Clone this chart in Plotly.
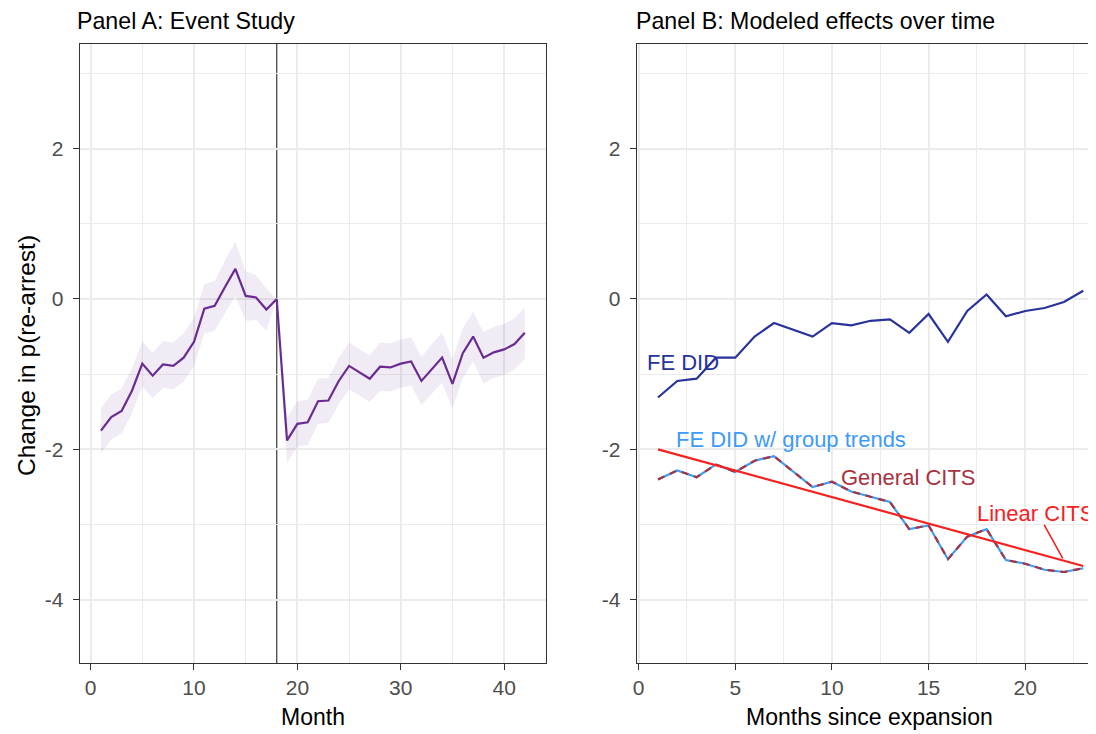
import plotly.graph_objects as go

# ---------------- Data ----------------
# Panel A: event study
es_month = list(range(1, 43))
es_est = [-1.75, -1.57, -1.49, -1.22, -0.86, -1.02, -0.87, -0.89, -0.78, -0.57,
          -0.13, -0.09, 0.16, 0.40, 0.04, 0.02, -0.14, 0.00,
          -1.88, -1.66, -1.64, -1.36, -1.35, -1.09, -0.89, -0.98, -1.06, -0.90,
          -0.91, -0.86, -0.83, -1.09, -0.93, -0.78, -1.13, -0.72, -0.50, -0.78,
          -0.71, -0.67, -0.60, -0.45]
es_halfwidth = [0.30, 0.30, 0.30, 0.30, 0.30, 0.30, 0.31, 0.31, 0.32, 0.32,
                0.33, 0.33, 0.35, 0.36, 0.33, 0.30, 0.28, 0.00,
                0.30, 0.30, 0.30, 0.30, 0.30, 0.31, 0.31, 0.31, 0.31, 0.32,
                0.32, 0.32, 0.32, 0.32, 0.33, 0.33, 0.33, 0.33, 0.33, 0.34,
                0.34, 0.34, 0.34, 0.34]
event_month = 18

# Panel B: modeled effects
mb_month = list(range(1, 24))
fe_did = [-1.31, -1.09, -1.06, -0.78, -0.78, -0.50, -0.32, -0.41, -0.50, -0.32,
          -0.35, -0.29, -0.27, -0.45, -0.20, -0.57, -0.16, 0.06, -0.23, -0.16,
          -0.12, -0.04, 0.11]
fe_did_trends = [-2.40, -2.28, -2.37, -2.20, -2.30, -2.15, -2.09, -2.30, -2.50, -2.43,
                 -2.56, -2.63, -2.70, -3.06, -3.01, -3.46, -3.16, -3.06, -3.47, -3.52,
                 -3.60, -3.63, -3.58]
general_cits = [-2.40, -2.28, -2.37, -2.20, -2.30, -2.15, -2.09, -2.30, -2.50, -2.43,
                -2.56, -2.63, -2.70, -3.06, -3.01, -3.46, -3.16, -3.06, -3.47, -3.52,
                -3.60, -3.63, -3.58]
linear_month = [1, 23]
linear_cits = [-2.00, -3.55]

y_ticks = [-4, -2, 0, 2]
y_ticktext = ["-4", "-2", "0", "2"]
y_minor = [-3, -1, 1, 3]
xa_ticks = [0, 10, 20, 30, 40]
xa_minor = [5, 15, 25, 35]
xb_ticks = [0, 5, 10, 15, 20]
xb_minor = [2.5, 7.5, 12.5, 17.5, 22.5]

# ---------------- Styling ----------------
FONT = "Liberation Sans, Arial, Helvetica, sans-serif"
OFF = 8                      # page body margin of the browser
W, H = 1096 - OFF, 734 - OFF
GRID = "#EBEBEB"
FRAME = "#333333"
TICKC = "#4D4D4D"

PURPLE = "#6B2C91"
NAVY = "#27339A"
LBLUE = "#3D9BF7"
BROWN = "#A83240"
RED = "#F5221F"


def px_x(p):
    return (p - OFF) / W


def px_y(p):
    return (H - (p - OFF)) / H


ydom = [px_y(663), px_y(44)]
yrange = [-4.84, 3.39]

fig = go.Figure()

# Panel A ribbon
lo = [e - h for e, h in zip(es_est, es_halfwidth)]
hi = [e + h for e, h in zip(es_est, es_halfwidth)]
fig.add_trace(go.Scatter(x=es_month, y=lo, mode="lines", line=dict(width=0, color="rgba(0,0,0,0)"),
                         hoverinfo="skip", showlegend=False, xaxis="x", yaxis="y"))
fig.add_trace(go.Scatter(x=es_month, y=hi, mode="lines", line=dict(width=0, color="rgba(0,0,0,0)"),
                         fill="tonexty", fillcolor="rgba(112,60,160,0.10)",
                         hoverinfo="skip", showlegend=False, xaxis="x", yaxis="y"))
fig.add_trace(go.Scatter(x=es_month, y=es_est, mode="lines", line=dict(color=PURPLE, width=2.2),
                         showlegend=False, xaxis="x", yaxis="y"))

# Panel B lines
fig.add_trace(go.Scatter(x=mb_month, y=fe_did, mode="lines", line=dict(color=NAVY, width=2.2),
                         showlegend=False, xaxis="x2", yaxis="y2"))
fig.add_trace(go.Scatter(x=mb_month, y=fe_did_trends, mode="lines", line=dict(color=LBLUE, width=2.2),
                         showlegend=False, xaxis="x2", yaxis="y2"))
fig.add_trace(go.Scatter(x=mb_month, y=general_cits, mode="lines",
                         line=dict(color=BROWN, width=2.2, dash="7px,6px"),
                         showlegend=False, xaxis="x2", yaxis="y2"))
fig.add_trace(go.Scatter(x=linear_month, y=linear_cits, mode="lines", line=dict(color=RED, width=2.2),
                         showlegend=False, xaxis="x2", yaxis="y2"))

common_axis = dict(
    showgrid=True, gridcolor=GRID, gridwidth=1.8, zeroline=False,
    showline=True, linecolor=FRAME, linewidth=1,
    ticks="outside", ticklen=6, tickcolor=FRAME, tickwidth=1,
    tickfont=dict(family=FONT, size=21, color=TICKC),
)
minor_common = dict(showgrid=True, gridcolor=GRID, gridwidth=1.3, ticks="")

fig.update_layout(
    width=W, height=H,
    margin=dict(l=0, r=0, t=0, b=0),
    paper_bgcolor="white", plot_bgcolor="white",
    showlegend=False,
    font=dict(family=FONT, color="black"),
    xaxis=dict(domain=[px_x(76), px_x(544)], range=[-1.05, 44.05], tickvals=xa_ticks,
               minor=dict(tickvals=xa_minor, **minor_common),
               mirror=True, anchor="y", **common_axis),
    yaxis=dict(domain=ydom, range=yrange, tickvals=y_ticks, ticktext=y_ticktext,
               minor=dict(tickvals=y_minor, **minor_common), ticklabelstandoff=5,
               mirror=True, anchor="x", **common_axis),
    xaxis2=dict(domain=[px_x(635), 1.0], range=[-0.1, 23.66], tickvals=xb_ticks,
                minor=dict(tickvals=xb_minor, **minor_common),
                mirror=True, anchor="y2", **common_axis),
    yaxis2=dict(domain=ydom, range=yrange, tickvals=y_ticks, ticktext=y_ticktext,
                minor=dict(tickvals=y_minor, **minor_common), ticklabelstandoff=5,
                mirror=False, anchor="x2", **common_axis),
)

# vertical event line
fig.add_shape(type="line", xref="x", yref="y domain", x0=event_month, x1=event_month, y0=0, y1=1,
              line=dict(color="#555555", width=1.4), layer="below")
# leader line for Linear CITS label
fig.add_shape(type="line", xref="x2", yref="y2", x0=20.98, y0=-3.005, x1=21.94, y1=-3.45,
              line=dict(color=RED, width=1.6), layer="above")

ann = []
# panel titles
ann.append(dict(text="Panel A: Event Study", xref="paper", yref="paper", x=px_x(71), y=px_y(21),
                xanchor="left", yanchor="middle", showarrow=False,
                font=dict(family=FONT, size=23.2, color="black")))
ann.append(dict(text="Panel B: Modeled effects over time", xref="paper", yref="paper", x=px_x(632), y=px_y(21),
                xanchor="left", yanchor="middle", showarrow=False,
                font=dict(family=FONT, size=23.2, color="black")))
# axis titles
ann.append(dict(text="Month", xref="paper", yref="paper", x=px_x(310), y=px_y(717),
                xanchor="center", yanchor="middle", showarrow=False,
                font=dict(family=FONT, size=23, color="black")))
ann.append(dict(text="Months since expansion", xref="paper", yref="paper", x=px_x(869), y=px_y(717),
                xanchor="center", yanchor="middle", showarrow=False,
                font=dict(family=FONT, size=23, color="black")))
ann.append(dict(text="Change in p(re-arrest)", xref="paper", yref="paper", x=px_x(22), y=px_y(355),
                xanchor="center", yanchor="middle", showarrow=False, textangle=-90,
                font=dict(family=FONT, size=24.5, color="black")))
# series labels
ann.append(dict(text="FE DID", xref="x2", yref="y2", x=2.27, y=-0.845, showarrow=False,
                xanchor="center", yanchor="middle", font=dict(family=FONT, size=22, color=NAVY)))
ann.append(dict(text="FE DID w/ group trends", xref="x2", yref="y2", x=7.9, y=-1.875, showarrow=False,
                xanchor="center", yanchor="middle", font=dict(family=FONT, size=22, color=LBLUE)))
ann.append(dict(text="General CITS", xref="x2", yref="y2", x=13.94, y=-2.37, showarrow=False,
                xanchor="center", yanchor="middle", font=dict(family=FONT, size=22, color=BROWN)))
ann.append(dict(text="Linear CITS", xref="x2", yref="y2", x=20.54, y=-2.85, showarrow=False,
                xanchor="center", yanchor="middle", font=dict(family=FONT, size=22, color=RED)))
fig.update_layout(annotations=ann)

fig.write_html("out.html")
